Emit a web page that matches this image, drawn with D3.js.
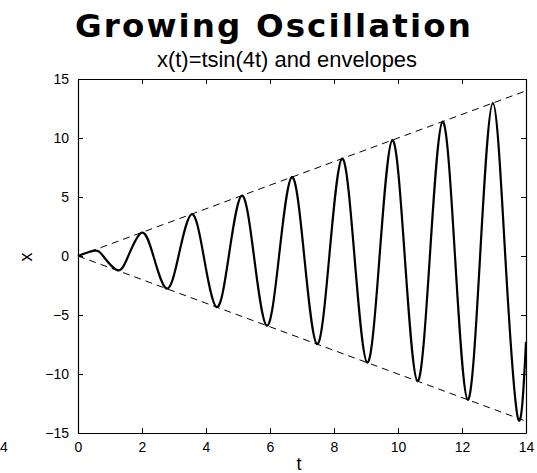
<!DOCTYPE html>
<html>
<head>
<meta charset="utf-8">
<script src="https://cdn.jsdelivr.net/npm/d3@7"></script>
<style>
  body { margin: 0; background: #fff; }
  svg { display: block; }
  text { fill: #000; }
</style>
</head>
<body>
<div id="chart"></div>
<script>
// chart values
const zeroT = [0, 0.785, 1.571, 2.356, 3.142, 3.927, 4.712, 5.498, 6.283, 7.069,
  7.854, 8.639, 9.425, 10.21, 10.996, 11.781, 12.566, 13.352];
const peakT = [0.507, 1.228, 1.995, 2.771, 3.552, 4.334, 5.117, 5.901, 6.685,
  7.47, 8.254, 9.039, 9.824, 10.609, 11.394, 12.179, 12.964, 13.749];
const peakX = [0.45, -1.2, 1.98, -2.76, 3.54, -4.33, 5.11, -5.9, 6.68,
  -7.47, 8.25, -9.04, 9.82, -10.61, 11.39, -12.18, 12.96, -13.75];
const endT = 14;
const endX = -7.28;

const envT = [0, 14];
const envUpper = [0, 14];
const envLower = [0, -14];

const xTicks = [0, 2, 4, 6, 8, 10, 12, 14];
const yTicks = [-15, -10, -5, 0, 5, 10, 15];

const svgWidth = 537;
const svgHeight = 473;

const margin = { top: 79, right: 11, bottom: 40, left: 78 };
const width = svgWidth - margin.left - margin.right;
const height = svgHeight - margin.top - margin.bottom;

const svg = d3.select("#chart")
  .append("svg")
  .attr("width", svgWidth)
  .attr("height", svgHeight);

const chartGroup = svg.append("g")
  .attr("transform", `translate(${margin.left}, ${margin.top})`);

const xScale = d3.scaleLinear().domain([0, 14]).range([0, width]);
const yScale = d3.scaleLinear().domain([-15, 15]).range([height, 0]);

// build the point list for the curve
let curvePts = zeroT.map(t => [t, 0]);
peakT.forEach((t, i) => curvePts.push([t, peakX[i]]));
curvePts.push([endT, endX]);
curvePts.sort((a, b) => a[0] - b[0]);

const tickFont = "'Liberation Sans', Arial, sans-serif";

// axes: ticks point inward, mirrored on top/right
const bottomAxis = d3.axisBottom(xScale).tickValues(xTicks).tickSizeInner(-5).tickSizeOuter(0).tickPadding(9);
const leftAxis = d3.axisLeft(yScale).tickValues(yTicks).tickSizeInner(-5).tickSizeOuter(0).tickPadding(9);
const topAxis = d3.axisTop(xScale).tickValues(xTicks).tickSizeInner(-5).tickSizeOuter(0).tickFormat("");
const rightAxis = d3.axisRight(yScale).tickValues(yTicks).tickSizeInner(-5).tickSizeOuter(0).tickFormat("");

function styleAxis(g) {
  g.select(".domain").attr("stroke", "#000").attr("stroke-width", 1.2);
  g.selectAll(".tick line").attr("stroke", "#000").attr("stroke-width", 1);
  g.selectAll(".tick text")
    .style("font-family", tickFont)
    .style("font-size", "14px")
    .attr("fill", "#000");
}

chartGroup.append("g")
  .attr("transform", `translate(0, ${height})`)
  .call(bottomAxis)
  .call(styleAxis)
  .selectAll(".tick text")
  .text(d => d < 0 ? "\u2212" + Math.abs(d) : d);

chartGroup.append("g")
  .call(leftAxis)
  .call(styleAxis)
  .selectAll(".tick text")
  .text(d => d < 0 ? "\u2212" + Math.abs(d) : d);

chartGroup.append("g").call(topAxis).call(styleAxis);
chartGroup.append("g")
  .attr("transform", `translate(${width}, 0)`)
  .call(rightAxis)
  .call(styleAxis);

// envelopes
const envLine = d3.line()
  .x(d => xScale(d[0]))
  .y(d => yScale(d[1]));

[envUpper, envLower].forEach(env => {
  chartGroup.append("path")
    .datum(envT.map((t, i) => [t, env[i]]))
    .attr("d", envLine)
    .attr("fill", "none")
    .attr("stroke", "#000")
    .attr("stroke-width", 1)
    .attr("stroke-dasharray", "7,5");
});

// oscillation
const oscLine = d3.line()
  .x(d => xScale(d[0]))
  .y(d => yScale(d[1]))
  .curve(d3.curveNatural);

chartGroup.append("path")
  .datum(curvePts)
  .attr("d", oscLine)
  .attr("fill", "none")
  .attr("stroke", "#000")
  .attr("stroke-width", 2.2)
  .attr("stroke-linejoin", "round");

// titles
const title = svg.append("text")
  .attr("x", 274)
  .attr("y", 37)
  .attr("text-anchor", "middle")
  .style("font-family", "'DejaVu Sans', sans-serif")
  .style("font-weight", "bold")
  .style("font-size", "32.5px")
  .text("Growing Oscillation");
// spread letters to the width seen in the reference
const tw = title.node().getComputedTextLength();
title.style("letter-spacing", Math.max(0, (398 - tw) / 19).toFixed(2) + "px");

const sub = svg.append("text")
  .attr("x", 287)
  .attr("y", 67)
  .attr("text-anchor", "middle")
  .style("font-family", tickFont)
  .style("font-size", "18px")
  .text("x(t)=tsin(4t) and envelopes");
const sw = sub.node().getComputedTextLength();
sub.style("font-size", (18 * 260 / sw).toFixed(2) + "px");

// axis labels
svg.append("text")
  .attr("x", 299)
  .attr("y", 470)
  .attr("text-anchor", "middle")
  .style("font-family", tickFont)
  .style("font-size", "18px")
  .text("t");

svg.append("text")
  .attr("transform", "translate(32, 257) rotate(-90)")
  .attr("text-anchor", "middle")
  .style("font-family", tickFont)
  .style("font-size", "18px")
  .text("x");

// stray clipped label at the lower left
svg.append("text")
  .attr("x", 0)
  .attr("y", 452)
  .style("font-family", tickFont)
  .style("font-size", "14px")
  .text("4");
</script>
</body>
</html>
